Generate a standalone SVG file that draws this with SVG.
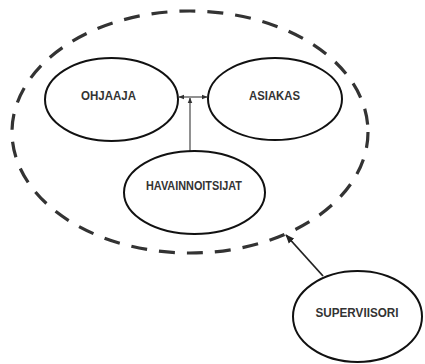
<svg xmlns="http://www.w3.org/2000/svg" width="425" height="364" viewBox="0 0 425 364">
  <style>
    .node { fill: #ffffff; stroke: #111111; stroke-width: 2; }
    .label { font-family: "Liberation Sans", Arial, sans-serif; font-weight: bold; font-size: 12.5px; fill: #333333; text-anchor: middle; }
    .boundary { fill: none; stroke: #333333; stroke-width: 3.2; stroke-dasharray: 16 12; }
    .link { fill: none; stroke: #555555; stroke-width: 1.3; }
    .link-dark { fill: none; stroke: #222222; stroke-width: 1.8; }
  </style>
  <defs>
    <marker id="tip" viewBox="0 0 10 10" refX="9" refY="5" markerWidth="6" markerHeight="6" orient="auto-start-reverse" markerUnits="userSpaceOnUse">
      <path d="M0,1 L10,5 L0,9 z" fill="#333333"/>
    </marker>
    <marker id="tip-lg" viewBox="0 0 10 10" refX="9" refY="5" markerWidth="9" markerHeight="9" orient="auto" markerUnits="userSpaceOnUse">
      <path d="M0,1 L10,5 L0,9 z" fill="#222222"/>
    </marker>
  </defs>

  <rect width="425" height="364" fill="#ffffff"/>

  <!-- dashed boundary around the working group -->
  <ellipse id="boundary" class="boundary" cx="190" cy="132" rx="178" ry="121"/>

  <g id="connectors">
    <line class="link" x1="179" y1="97" x2="207" y2="97" marker-start="url(#tip)" marker-end="url(#tip)"/>
    <line class="link" x1="190" y1="151" x2="190" y2="98" marker-end="url(#tip)"/>
    <line class="link-dark" x1="323" y1="276" x2="286" y2="235" marker-end="url(#tip-lg)"/>
  </g>

  <g id="ohjaaja">
    <ellipse class="node" cx="111.5" cy="99.5" rx="66.5" ry="41.5"/>
    <text class="label" x="108.5" y="99.5" textLength="55" lengthAdjust="spacingAndGlyphs">OHJAAJA</text>
  </g>

  <g id="asiakas">
    <ellipse class="node" cx="275" cy="99" rx="67" ry="41"/>
    <text class="label" x="274.5" y="99.5" textLength="51" lengthAdjust="spacingAndGlyphs">ASIAKAS</text>
  </g>

  <g id="havainnoitsijat">
    <ellipse class="node" cx="194.5" cy="192.5" rx="70.5" ry="41.5"/>
    <text class="label" x="194" y="189.5" textLength="96" lengthAdjust="spacingAndGlyphs">HAVAINNOITSIJAT</text>
  </g>

  <g id="superviisori">
    <ellipse class="node" cx="357.5" cy="316.5" rx="64.5" ry="45.5"/>
    <text class="label" x="357" y="316.5" textLength="83" lengthAdjust="spacingAndGlyphs">SUPERVIISORI</text>
  </g>
</svg>
